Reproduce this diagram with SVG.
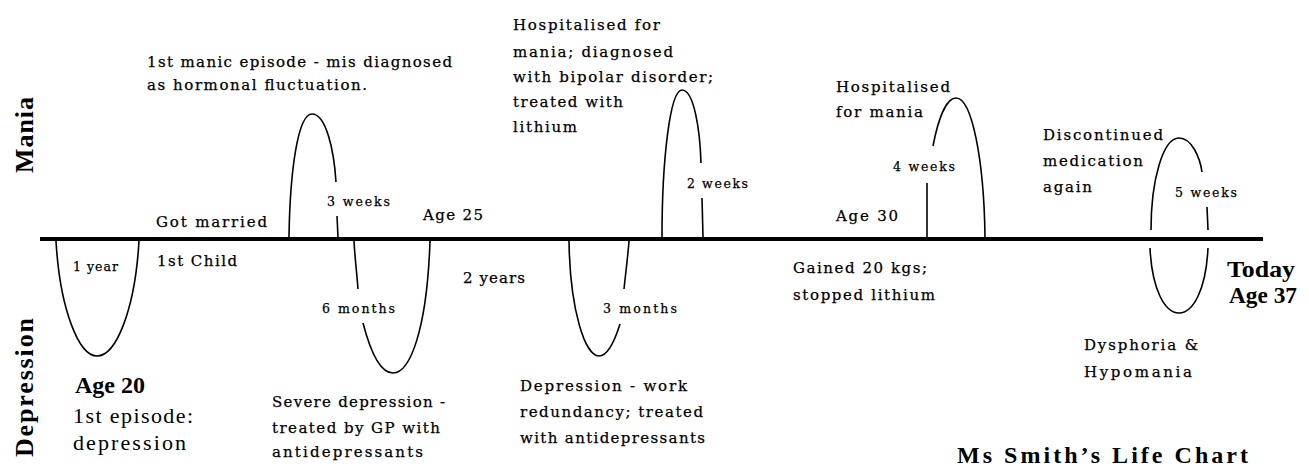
<svg xmlns="http://www.w3.org/2000/svg" width="1309" height="466" viewBox="0 0 1309 466">
<style>
text{font-family:"DejaVu Serif","Liberation Serif",serif;font-size:15px;fill:#000;stroke:#000;stroke-width:0.25}
.s{font-size:12.5px}
.b{font-family:"Liberation Serif","DejaVu Serif",serif;font-weight:bold;stroke:none}
.v{font-size:26px}
.a{font-size:23px}
.ttl{font-size:24px}
.big{font-family:"Liberation Serif","DejaVu Serif",serif;font-size:22px;stroke:none}
.axis{stroke:#000;stroke-width:4;fill:none}
.c{fill:none;stroke:#000;stroke-width:1.6}
</style>
<rect width="1309" height="466" fill="#fff"/>
<g id="connectors">
<line class="axis" x1="40" y1="239" x2="1263" y2="239"/>
<path id="dep1" class="c" d="M56,241 C60,310 79,356 97,356 C116,356 135,310 139,241"/>
<path id="man1" class="c" d="M289,237 C290,170 298,114 312,114 C326,114 334,150 336,182 M337,216 L338,237"/>
<path id="dep2" class="c" d="M354,241 C355,260 357,275 358,289 M363,323 C370,350 380,373 393,373 C410,373 427,330 430,241"/>
<path id="man2" class="c" d="M662,237 C662,160 670,90 682,90 C694,90 700,130 701,163 M702,198 L703,237"/>
<path id="dep3" class="c" d="M569,241 C570,310 585,356 599,356 C608,356 615,340 620,324 M624,289 C626,270 628,255 629,241"/>
<path id="man3" class="c" d="M927,183 L927,237 M933,146 C938,120 946,98 956,98 C972,98 984,160 985,237"/>
<path id="man4" class="c" d="M1151,230 C1151,180 1163,138 1179,138 C1192,138 1200,158 1202,172 M1207,207 L1208,230"/>
<path id="dep4" class="c" d="M1150,248 C1152,290 1165,313 1179,313 C1193,313 1206,290 1208,248"/>
</g>
<g id="axis-labels">
<text class="b v" transform="translate(33,173) rotate(-90)" textLength="76" lengthAdjust="spacing">Mania</text>
<text class="b v" transform="translate(33,457) rotate(-90)" textLength="139" lengthAdjust="spacing">Depression</text>
</g>
<g id="age20">
<text class="s" x="73" y="271" textLength="45" lengthAdjust="spacing">1 year</text>
<text class="b a" x="75" y="393" textLength="70" lengthAdjust="spacingAndGlyphs">Age 20</text>
<text class="big" x="73" y="423" textLength="120" lengthAdjust="spacing">1st episode:</text>
<text class="big" x="73" y="450" textLength="113" lengthAdjust="spacing">depression</text>
</g>
<g id="married">
<text x="156" y="227" textLength="111" lengthAdjust="spacing">Got married</text>
<text x="157" y="266" textLength="80" lengthAdjust="spacing">1st Child</text>
</g>
<g id="manic1">
<text x="147" y="67" textLength="305" lengthAdjust="spacing">1st manic episode - mis diagnosed</text>
<text x="147" y="90" textLength="220" lengthAdjust="spacing">as hormonal fluctuation.</text>
<text class="s" x="327" y="206" textLength="63" lengthAdjust="spacing">3 weeks</text>
</g>
<g id="depression2">
<text class="s" x="322" y="313" textLength="73" lengthAdjust="spacing">6 months</text>
<text x="272" y="407" textLength="173" lengthAdjust="spacing">Severe depression -</text>
<text x="272" y="433" textLength="168" lengthAdjust="spacing">treated by GP with</text>
<text x="272" y="457" textLength="151" lengthAdjust="spacing">antidepressants</text>
</g>
<g id="age25">
<text x="423" y="220" textLength="60" lengthAdjust="spacing">Age 25</text>
<text x="463" y="283" textLength="62" lengthAdjust="spacing">2 years</text>
</g>
<g id="manic2">
<text x="513" y="30" textLength="147" lengthAdjust="spacing">Hospitalised for</text>
<text x="513" y="57" textLength="160" lengthAdjust="spacing">mania; diagnosed</text>
<text x="513" y="82" textLength="200" lengthAdjust="spacing">with bipolar disorder;</text>
<text x="513" y="107" textLength="110" lengthAdjust="spacing">treated with</text>
<text x="513" y="132" textLength="64" lengthAdjust="spacing">lithium</text>
<text class="s" x="687" y="188" textLength="61" lengthAdjust="spacing">2 weeks</text>
</g>
<g id="depression3">
<text class="s" x="603" y="313" textLength="74" lengthAdjust="spacing">3 months</text>
<text x="520" y="391" textLength="167" lengthAdjust="spacing">Depression - work</text>
<text x="520" y="417" textLength="183" lengthAdjust="spacing">redundancy; treated</text>
<text x="520" y="443" textLength="185" lengthAdjust="spacing">with antidepressants</text>
</g>
<g id="lithium-stop">
<text x="793" y="273" textLength="134" lengthAdjust="spacing">Gained 20 kgs;</text>
<text x="793" y="300" textLength="142" lengthAdjust="spacing">stopped lithium</text>
</g>
<g id="manic3">
<text x="836" y="92" textLength="114" lengthAdjust="spacing">Hospitalised</text>
<text x="836" y="117" textLength="87" lengthAdjust="spacing">for mania</text>
<text class="s" x="893" y="171" textLength="62" lengthAdjust="spacing">4 weeks</text>
<text x="836" y="221" textLength="62" lengthAdjust="spacing">Age 30</text>
</g>
<g id="manic4">
<text x="1043" y="140" textLength="120" lengthAdjust="spacing">Discontinued</text>
<text x="1043" y="166" textLength="100" lengthAdjust="spacing">medication</text>
<text x="1043" y="192" textLength="49" lengthAdjust="spacing">again</text>
<text class="s" x="1175" y="197" textLength="62" lengthAdjust="spacing">5 weeks</text>
</g>
<g id="dysphoria">
<text x="1084" y="350" textLength="114" lengthAdjust="spacing">Dysphoria &amp;</text>
<text x="1084" y="377" textLength="108" lengthAdjust="spacing">Hypomania</text>
</g>
<g id="today">
<text class="b a" x="1227" y="277" textLength="68" lengthAdjust="spacingAndGlyphs">Today</text>
<text class="b a" x="1229" y="303" textLength="68" lengthAdjust="spacingAndGlyphs">Age 37</text>
</g>
<g id="title">
<text class="b ttl" x="957" y="463" textLength="291" lengthAdjust="spacing">Ms Smith’s Life Chart</text>
</g>
</svg>
